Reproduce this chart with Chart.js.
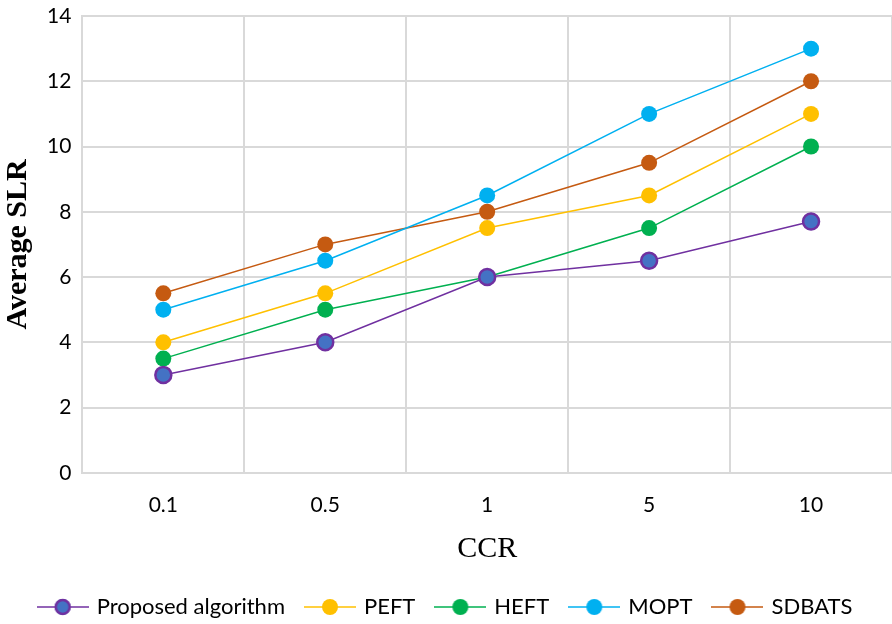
<!DOCTYPE html>
<html>
<head>
<meta charset="utf-8">
<script src="https://cdn.jsdelivr.net/npm/chart.js@4"></script>
<style>
  html, body { margin: 0; padding: 0; background: #fff; }
  #wrap { width: 892px; height: 624px; }
</style>
</head>
<body>
<div id="wrap"><canvas id="slrChart"></canvas></div>
<script>
// CCR 值與各演算法平均 SLR
const ccrLabels = ["0.1", "0.5", "1", "5", "10"];
const proposedSLR = [3, 4, 6, 6.5, 7.7];
const peftSLR = [4, 5.5, 7.5, 8.5, 11];
const heftSLR = [3.5, 5, 6, 7.5, 10];
const moptSLR = [5, 6.5, 8.5, 11, 13];
const sdbatsSLR = [5.5, 7, 8, 9.5, 12];
const yTicks = [0, 2, 4, 6, 8, 10, 12, 14];

const tickFont = { family: "Lato, 'Open Sans', sans-serif", size: 21 };
const gridColor = "#d9d9d9";

function makeSeries(label, data, line, fill) {
    return {
        label,
        data,
        borderColor: line,
        backgroundColor: fill,
        borderWidth: 1.5,
        pointRadius: 8,
        pointHoverRadius: 8,
        pointBorderWidth: line === fill ? 0 : 2.5,
        pointBorderColor: line,
        pointBackgroundColor: fill,
        tension: 0
    };
}

// 圖例：線段中間一個圓點
function legendIcon(line, fill) {
    const c = document.createElement("canvas");
    c.width = 52;
    c.height = 20;
    const g = c.getContext("2d");
    g.strokeStyle = line;
    g.lineWidth = 1.5;
    g.beginPath();
    g.moveTo(0, 10);
    g.lineTo(52, 10);
    g.stroke();
    g.beginPath();
    g.arc(26, 10, 8, 0, Math.PI * 2);
    g.fillStyle = fill;
    g.fill();
    if (line !== fill) {
        g.lineWidth = 2.5;
        g.strokeStyle = line;
        g.beginPath();
        g.arc(26, 10, 7, 0, Math.PI * 2);
        g.stroke();
    }
    return c;
}

const datasets = [
    makeSeries("Proposed algorithm", proposedSLR, "#7030a0", "#4472c4"),
    makeSeries("PEFT", peftSLR, "#ffc000", "#ffc000"),
    makeSeries("HEFT", heftSLR, "#00b050", "#00b050"),
    makeSeries("MOPT", moptSLR, "#00b0f0", "#00b0f0"),
    makeSeries("SDBATS", sdbatsSLR, "#c55a11", "#c55a11")
];

const ctx = document.getElementById("slrChart").getContext("2d");
new Chart(ctx, {
    type: "line",
    data: { labels: ccrLabels, datasets },
    options: {
        responsive: true,
        maintainAspectRatio: false,
        animation: false,
        layout: { autoPadding: false, padding: { top: 16, right: 0, bottom: -4, left: 0 } },
        scales: {
            x: {
                offset: true,
                afterFit: (axis) => { axis.paddingLeft = 0; axis.paddingRight = 0; },
                grid: { offset: true, color: gridColor, lineWidth: 2, drawTicks: false },
                border: { color: gridColor, width: 2 },
                ticks: { color: "#000", font: tickFont, padding: 20 },
                title: {
                    display: true,
                    text: "CCR",
                    color: "#000",
                    font: { family: "'Liberation Serif', 'Times New Roman', serif", size: 30, lineHeight: 1 },
                    padding: { top: -4, bottom: 10 }
                }
            },
            y: {
                min: 0,
                max: 14,
                afterBuildTicks: (axis) => { axis.ticks = yTicks.map(v => ({ value: v })); },
                afterFit: (axis) => { axis.paddingTop = 0; axis.paddingBottom = 0; },
                grid: { color: gridColor, lineWidth: 2, drawTicks: false },
                border: { color: gridColor, width: 2 },
                ticks: { color: "#000", font: tickFont, padding: 11 },
                title: {
                    display: true,
                    text: "Average SLR",
                    color: "#000",
                    font: { family: "'Liberation Serif', 'Times New Roman', serif", size: 30, weight: "bold" },
                    padding: { top: 0, bottom: 0 }
                }
            }
        },
        plugins: {
            legend: {
                position: "bottom",
                labels: {
                    color: "#000",
                    font: { family: "Lato, 'Open Sans', sans-serif", size: 22, lineHeight: 1 },
                    usePointStyle: true,
                    pointStyleWidth: 46,
                    boxHeight: 20,
                    padding: 22,
                    generateLabels: (chart) => {
                        const items = Chart.defaults.plugins.legend.labels.generateLabels(chart);
                        return items.map((it, i) => {
                            const ds = chart.data.datasets[i];
                            it.pointStyle = legendIcon(ds.borderColor, ds.backgroundColor);
                            return it;
                        });
                    }
                }
            },
            tooltip: { enabled: false }
        }
    }
});
</script>
</body>
</html>
